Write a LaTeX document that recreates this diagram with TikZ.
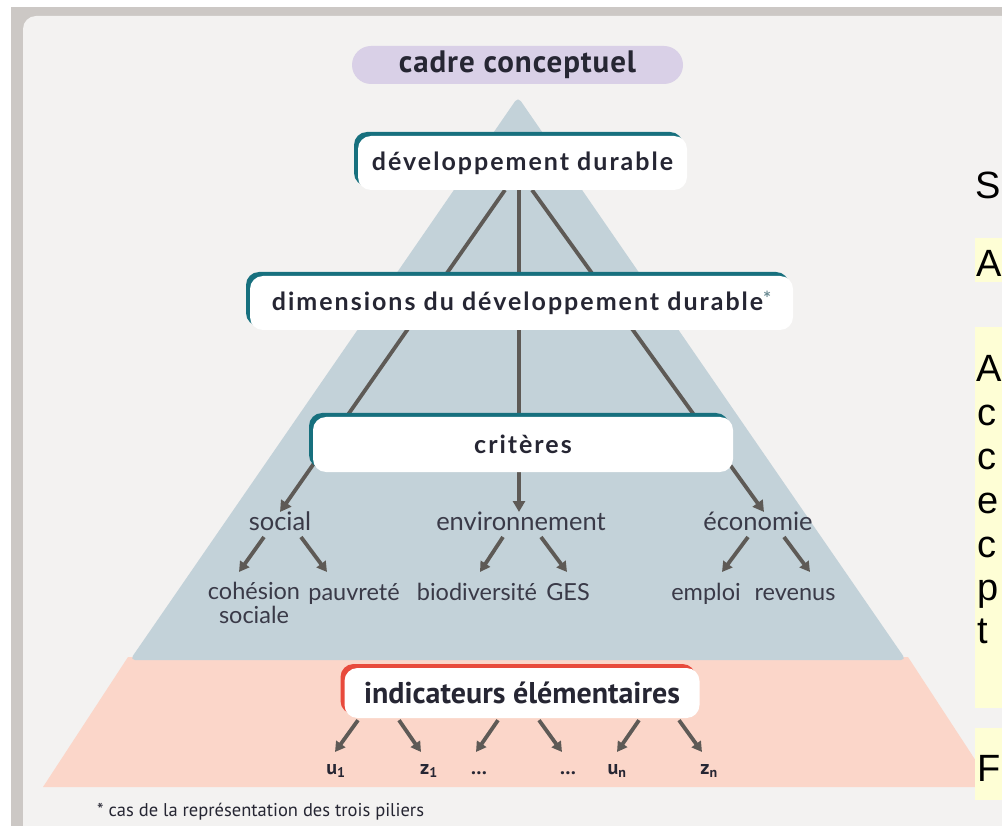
\documentclass[tikz,border=0pt]{standalone}
\usepackage{fontspec}
\usetikzlibrary{arrows.meta,calc}
\setmainfont{Lato}
\newfontfamily\hfont[LetterSpace=8]{Lato Bold}
\newfontfamily\cfont{PT Sans}
\newfontfamily\cbfont[LetterSpace=3]{PT Sans Bold}
\newfontfamily\ibfont{PT Sans Bold}
\newfontfamily\arialf{Liberation Sans}
\definecolor{panel}{HTML}{F3F2F1}
\definecolor{frame}{HTML}{CCC8C5}
\definecolor{pyr}{HTML}{C3D2D9}
\definecolor{pink}{HTML}{FBD6C9}
\definecolor{lav}{HTML}{D9D0E7}
\definecolor{tealc}{HTML}{17707E}
\definecolor{redc}{HTML}{E84A3C}
\definecolor{arrc}{HTML}{5E5A56}
\definecolor{txt}{HTML}{262633}
\definecolor{ltxt}{HTML}{3A3A48}
\definecolor{yel}{HTML}{FEFED5}
\definecolor{astc}{HTML}{6A8A92}
\tikzset{
  hbox/.style={fill=white, rounded corners=13pt, inner sep=0pt, text=txt,
    font=\hfont\fontsize{25}{28}\selectfont},
  tacc/.style={preaction={fill=tealc, transform canvas={xshift=-4pt,yshift=4pt}}},
  racc/.style={preaction={fill=redc, transform canvas={xshift=-4pt,yshift=4pt}}},
  lab/.style={inner sep=0pt, anchor=base, text=ltxt, font=\fontsize{25.5}{28}\selectfont},
  leaf/.style={inner sep=0pt, anchor=base, text=ltxt, font=\fontsize{23.5}{23.5}\selectfont},
  ind/.style={inner sep=0pt, anchor=base, text=txt, font=\ibfont\fontsize{20}{22}\selectfont},
  arr/.style={draw=arrc, line width=3.8pt, -{Triangle[length=11pt,width=12pt]}},
  sarr/.style={draw=arrc, line width=3.8pt, -{Triangle[length=10pt,width=11pt]}},
  rtxt/.style={inner sep=0pt, anchor=base west, font=\arialf\fontsize{38}{44}\selectfont},
}
\begin{document}
\begin{tikzpicture}[x=1pt,y=-1pt]
\useasboundingbox (0,0) rectangle (1002,826);
\begin{scope}
\clip (0,0) rectangle (1002,826);
% frame and panel
\fill[white] (0,0) rectangle (1002,826);
\fill[frame] (11,7) rectangle (1010,830);
\fill[panel, rounded corners=13pt] (23,16) -- (1030,16) -- (1030,850) -- (23,850) -- cycle;
% pyramid
\fill[pink] (128,657) -- (908,657) -- (993,787) -- (43,787) -- cycle;
\fill[pyr, rounded corners=5pt] (518,97) -- (130,660) -- (906,660) -- cycle;
% right side cut content
\fill[yel] (975,238) rectangle (1010,282);
\fill[yel] (975,327) rectangle (1010,708);
\fill[yel] (975,728) rectangle (1010,800);
\node[rtxt] (rs) at (975,199) {S};
\node[rtxt] (ra) at (976,277) {A};
\node[rtxt] (r1) at (976,382) {A};
\node[rtxt] (r2) at (977,425) {c};
\node[rtxt] (r3) at (977,469) {c};
\node[rtxt] (r4) at (977,513) {e};
\node[rtxt] (r5) at (977,557) {c};
\node[rtxt] (r6) at (977,600) {p};
\node[rtxt] (r7) at (977,643) {t};
\node[rtxt] (rf) at (977,781) {F};
\end{scope}

% title
\node[fill=lav, rounded corners=19pt, minimum width=331pt, minimum height=38pt, inner sep=0pt,
  text=txt, font=\cbfont\fontsize{31}{32}\selectfont] (cadre) at (517.5,65) {cadre conceptuel};

% label nodes
\node[lab] (social) at (280,530) {social};
\node[lab] (env) at (521,530) {environnement};
\node[lab] (eco) at (758,530) {économie};

% main connectors (behind boxes)
\coordinate (ddl) at (505,190);
\coordinate (ddc) at (519,190);
\coordinate (ddr) at (532,190);
\draw[arr] (ddl) -- ($(social.base)+(0,-18)$);
\draw[arr] (ddc) -- ($(env.base -| ddc)+(0,-18)$);
\draw[arr] (ddr) -- ($(eco.base)+(6,-18)$);

% boxes
\node[hbox, tacc, minimum width=329pt, minimum height=54pt] (dd) at (522.5,163) {développement durable};
\node[hbox, tacc, minimum width=543pt, minimum height=54pt] (dim) at (521.5,303)
  {dimensions du développement durable\textcolor{astc}{\raisebox{0.45ex}{\fontsize{19}{19}\selectfont *}}};
\node[hbox, tacc, minimum width=420pt, minimum height=55pt] (crit) at (523,444.5) {critères};
\node[hbox, racc, minimum width=355pt, minimum height=50pt, font=\ibfont\fontsize{30}{31}\selectfont] (ind) at (522,693) {indicateurs élémentaires};

% leaves
\node[leaf, align=center] (coh) at (254,623) {cohésion\\sociale};
\node[leaf] (pau) at (354,600) {pauvreté};
\node[leaf] (bio) at (477,600) {biodiversité};
\node[leaf] (ges) at (568,600) {GES};
\node[leaf] (emp) at (706,600) {emploi};
\node[leaf] (rev) at (795,600) {revenus};

\draw[sarr] ($(social.base)+(-16,7)$) -- ($(coh.base)+(-15,-51)$);
\draw[sarr] ($(social.base)+(21,7)$) -- ($(pau.base)+(-27,-28)$);
\draw[sarr] ($(env.base)+(-18,7)$) -- ($(bio.base)+(3,-28)$);
\draw[sarr] ($(env.base)+(20,7)$) -- ($(ges.base)+(-1,-28)$);
\draw[sarr] ($(eco.base)+(-10,7)$) -- ($(emp.base)+(16,-28)$);
\draw[sarr] ($(eco.base)+(26,7)$) -- ($(rev.base)+(15,-28)$);

% bottom indicators
\node[ind] (u1) at (336,774) {u\textsubscript{1}};
\node[ind] (z1) at (429,774) {z\textsubscript{1}};
\node[ind] (d1) at (479,774) {\dots};
\node[ind] (d2) at (568,774) {\dots};
\node[ind] (un) at (617,774) {u\textsubscript{n}};
\node[ind] (zn) at (709,774) {z\textsubscript{n}};
\draw[sarr] ($(ind.south)+(-164,2)$) -- ($(u1.base)+(-1,-22)$);
\draw[sarr] ($(ind.south)+(-123,2)$) -- ($(z1.base)+(-8,-22)$);
\draw[sarr] ($(ind.south)+(-24,2)$) -- ($(d1.base)+(-3,-22)$);
\draw[sarr] ($(ind.south)+(17,2)$) -- ($(d2.base)+(-6,-22)$);
\draw[sarr] ($(ind.south)+(117,2)$) -- ($(un.base)+(0,-22)$);
\draw[sarr] ($(ind.south)+(157,2)$) -- ($(zn.base)+(-7,-22)$);

% footnote
\node[inner sep=0pt, anchor=base west, text=txt, font=\cfont\fontsize{18.5}{20}\selectfont] (fn) at (97,816)
  {* cas de la représentation des trois piliers};
\end{tikzpicture}
\end{document}
